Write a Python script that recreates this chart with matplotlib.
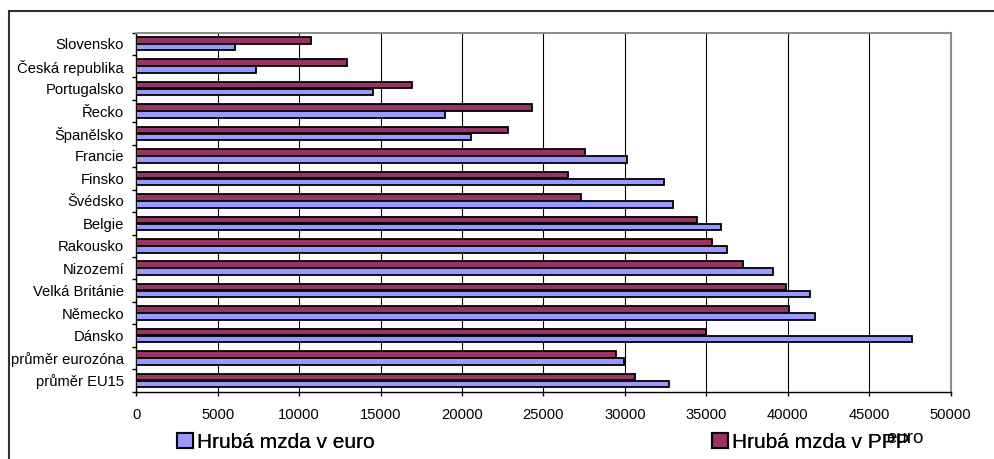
import matplotlib
matplotlib.use('Agg')
import matplotlib.pyplot as plt
from matplotlib.patches import Patch, Rectangle
import numpy as np

plt.rcParams['font.family'] = ['Liberation Sans', 'DejaVu Sans']

categories = ['Slovensko', 'Česká republika', 'Portugalsko', 'Řecko', 'Španělsko',
              'Francie', 'Finsko', 'Švédsko', 'Belgie', 'Rakousko', 'Nizozemí',
              'Velká Británie', 'Německo', 'Dánsko', 'průměr eurozóna', 'průměr EU15']
mzda_euro = [6040, 7370, 14510, 18950, 20550, 30110, 32420, 32930,
             35880, 36270, 39130, 41400, 41690, 47630, 29970, 32690]
mzda_ppp = [10730, 12920, 16950, 24310, 22830, 27560, 26490, 27290,
            34430, 35350, 37250, 39910, 40080, 34960, 29450, 30640]
x_ticks = list(range(0, 50001, 5000))
label_euro = 'Hrubá mzda v euro'
label_ppp = 'Hrubá mzda v PPP'

col_euro = '#9999FF'
col_ppp = '#993366'

W, H = 994, 459
fig = plt.figure(figsize=(W / 100, H / 100), dpi=100)
ax = fig.add_axes([136.3 / W, 1 - 391.7 / H, (950.5 - 136.3) / W, (391.7 - 32.5) / H])

y = np.arange(len(categories))
bh = 0.29
ax.barh(y - 0.155, mzda_ppp, height=bh, color=col_ppp, edgecolor='black', linewidth=1.3, zorder=3)
ax.barh(y + 0.155, mzda_euro, height=bh, color=col_euro, edgecolor='black', linewidth=1.3, zorder=3)

ax.set_xlim(0, 50000)
ax.set_ylim(len(categories) - 0.5, -0.5)

ax.set_xticks(x_ticks)
ax.set_xticklabels([str(v) for v in x_ticks])
ax.tick_params(axis='x', direction='out', length=3, width=1, pad=8.5, labelsize=10.6)

ax.set_yticks(np.arange(-0.5, len(categories), 1.0))
ax.set_yticklabels([])
ax.set_yticks(y, minor=True)
ax.set_yticklabels(categories, minor=True)
ax.tick_params(axis='y', which='major', direction='out', length=3, width=1)
ax.tick_params(axis='y', which='minor', length=0, pad=8.8, labelsize=10.6)

ax.grid(axis='x', color='black', linewidth=0.8, zorder=0)
ax.set_axisbelow(True)

for s in ['top', 'right']:
    ax.spines[s].set_color('#8c8c8c')
    ax.spines[s].set_linewidth(1.5)
for s in ['left', 'bottom']:
    ax.spines[s].set_color('black')
    ax.spines[s].set_linewidth(1.0)

ax.set_xlabel('euro', fontsize=13.5, va='baseline')
ax.xaxis.set_label_coords((905 - 136.3) / (950.5 - 136.3), -(443 - 391.7) / (391.7 - 32.5))

# legend entries, placed separately like the original
leg_y = 1 - 442.5 / H
for lab, col, x0 in [(label_euro, col_euro, 176.7), (label_ppp, col_ppp, 711.7)]:
    leg = fig.legend(handles=[Patch(facecolor=col, edgecolor='black', linewidth=1.5)],
                     labels=[lab], loc='center left', bbox_to_anchor=(x0 / W, leg_y),
                     frameon=False, fontsize=15, handlelength=0.76, handleheight=0.76,
                     handletextpad=0.2, borderpad=0, borderaxespad=0)
    fig.add_artist(leg)

# outer chart frame
fig.add_artist(Rectangle((9 / W, -0.2), 2, 1.2 - 10.7 / H, transform=fig.transFigure,
                         fill=False, edgecolor='#303030', linewidth=1.5))

fig.savefig('out.png', dpi=100)
